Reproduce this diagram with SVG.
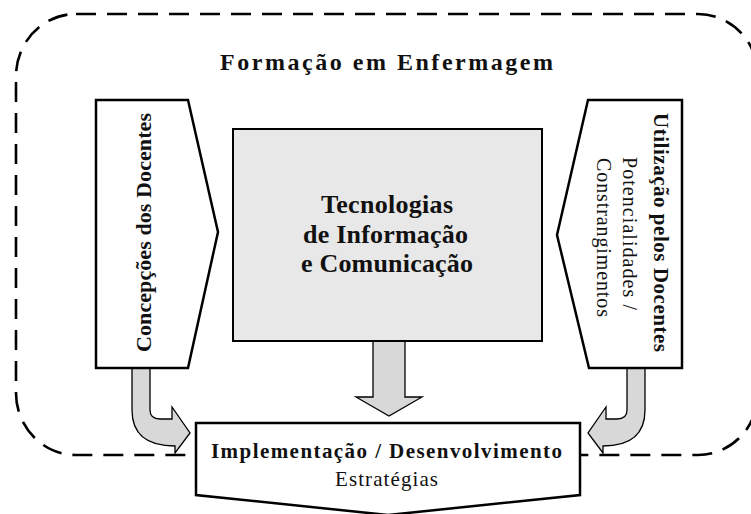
<svg xmlns="http://www.w3.org/2000/svg" width="751" height="514" viewBox="0 0 751 514">
<style>
.serif{font-family:"Liberation Serif","Times New Roman",serif;fill:#111}
.b{font-weight:bold}
.node{fill:#fff;stroke:#000;stroke-width:2.5;stroke-linejoin:miter}
.arrow{fill:#d8d8d8;stroke:#000;stroke-width:1.3;stroke-linejoin:miter}
</style>
<rect width="751" height="514" fill="#fff"/>
<g id="formacao">
<rect x="16" y="14" width="742" height="441" rx="60" ry="62" fill="none" stroke="#000" stroke-width="2.6" stroke-dasharray="20 11"/>
<text class="serif b" x="220" y="70" font-size="24" textLength="333" lengthAdjust="spacing">Formação em Enfermagem</text>
</g>
<g id="connectors">
<path class="arrow" d="M132,368 L150,368 L150,410 Q150,419 160,419 L172,419 L172,407 L190,433 L175,453 L175,446 Q132,446 132,410 Z"/>
<path class="arrow" d="M645,368 L627,368 L627,410 Q627,419 617,419 L606,419 L606,407 L588,433 L603,453 L603,446 Q645,446 645,410 Z"/>
<path class="arrow" d="M373,341 L405,341 L405,397 L422,397 L389,416 L356,397 L373,397 Z"/>
</g>
<g id="concepcoes">
<path class="node" d="M96,100 L188,100 L218,232 L188,368 L96,368 Z"/>
<text class="serif b" transform="translate(151,352) rotate(-90)" font-size="22" textLength="239" lengthAdjust="spacing">Concepções dos Docentes</text>
</g>
<g id="utilizacao">
<path class="node" d="M588,100 L682,100 L682,368 L589,368 L557,235 Z"/>
<text class="serif b" transform="translate(654,113) rotate(90)" font-size="21" textLength="239" lengthAdjust="spacing">Utilização pelos Docentes</text>
<text class="serif" transform="translate(623,157) rotate(90)" font-size="20" textLength="153" lengthAdjust="spacing">Potencialidades /</text>
<text class="serif" transform="translate(597,158) rotate(90)" font-size="20" textLength="159" lengthAdjust="spacing">Constrangimentos</text>
</g>
<g id="tic">
<rect x="233" y="129" width="309" height="212" fill="#e8e8e8" stroke="#000" stroke-width="2"/>
<text class="serif b" x="321" y="213" font-size="26" textLength="132" lengthAdjust="spacing">Tecnologias</text>
<text class="serif b" x="303" y="243" font-size="26" textLength="165" lengthAdjust="spacing">de Informação</text>
<text class="serif b" x="301" y="272" font-size="26" textLength="172" lengthAdjust="spacing">e Comunicação</text>
</g>
<g id="implementacao">
<path class="node" stroke-width="3" d="M196,423 L580,423 L580,495 L388,515 L196,495 Z"/>
<text class="serif b" x="211" y="458" font-size="21" textLength="351" lengthAdjust="spacing">Implementação / Desenvolvimento</text>
<text class="serif" x="335" y="486" font-size="21" textLength="103" lengthAdjust="spacing">Estratégias</text>
</g>
</svg>
